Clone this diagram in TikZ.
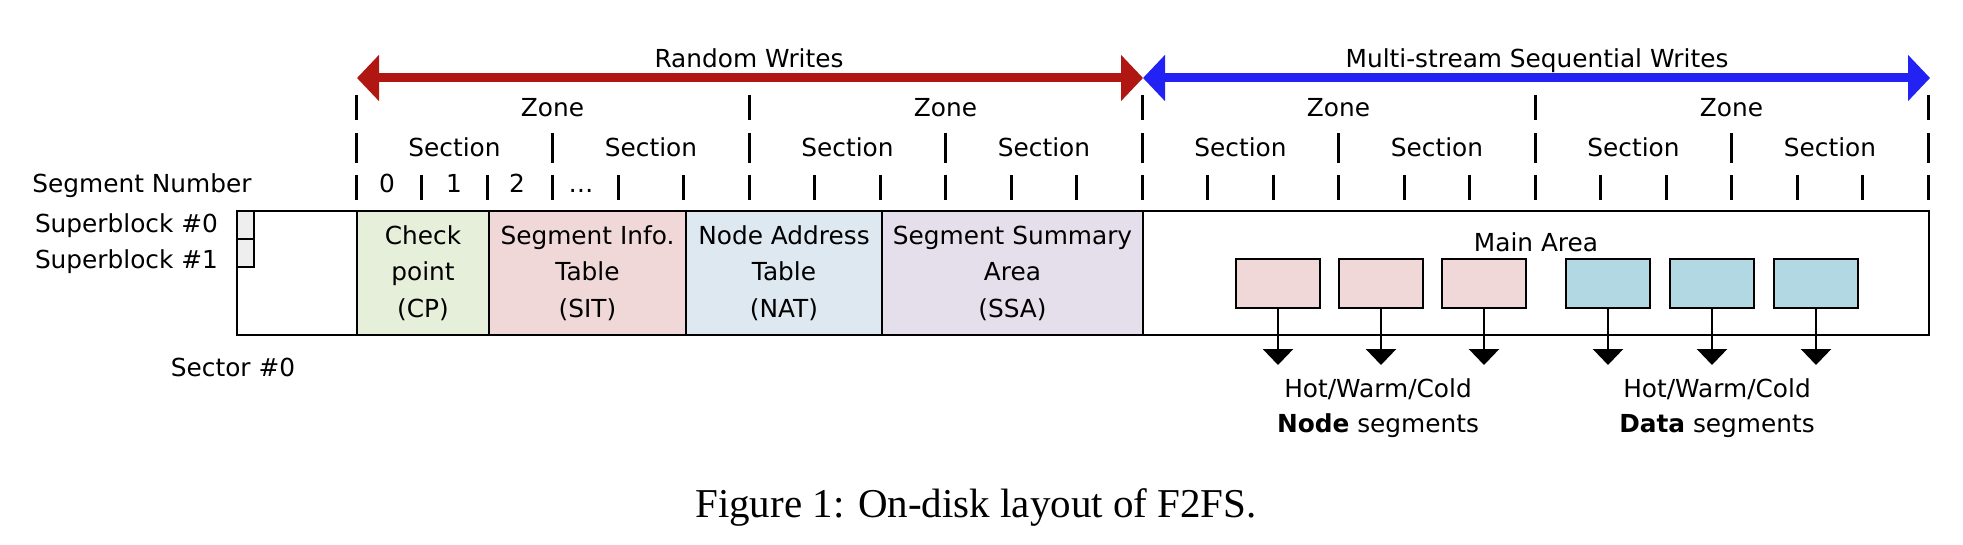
\documentclass[tikz,border=0pt]{standalone}
\usepackage{fontspec}
\setmainfont{DejaVu Sans}
\newfontfamily\capfont{Liberation Serif}
\usetikzlibrary{arrows.meta}
\definecolor{rwred}{RGB}{176,22,18}
\definecolor{swblue}{RGB}{34,34,245}
\definecolor{cpc}{HTML}{E6EFD9}
\definecolor{sitc}{HTML}{F0D8D8}
\definecolor{natc}{HTML}{DEE8F1}
\definecolor{ssac}{HTML}{E4DFEB}
\definecolor{sbc}{HTML}{EEEEEE}
\definecolor{datac}{HTML}{B2D8E3}
\begin{document}
\begin{tikzpicture}[x=0.5pt,y=-0.5pt,
  every node/.style={font=\fontsize{12.4}{18.25}\selectfont, inner sep=0pt, outer sep=0pt},
  lbl/.style={anchor=base},
  blk/.style={draw=black, line width=1.4pt, minimum height=62pt, align=center},
  sbbox/.style={draw=black, line width=1.4pt, fill=sbc, minimum width=8.5pt, minimum height=14pt},
  segbox/.style={draw=black, line width=1.4pt, minimum width=42pt, minimum height=24.5pt},
  tickline/.style={line width=1.5pt},
  bigarrow/.style={line width=4.5pt, {Triangle[length=11pt,width=22.5pt]}-{Triangle[length=11pt,width=22.5pt]}},
  downarrow/.style={line width=1.4pt, -{Triangle[length=8pt,width=15pt]}}
]
\useasboundingbox (0,0) rectangle (1963,545);

% write-mode arrows
\coordinate (rwL) at (357,78);
\coordinate (mid) at (1143,78);
\coordinate (swR) at (1930,78);
\draw[bigarrow, draw=rwred, fill=rwred] (rwL) -- (mid);
\draw[bigarrow, draw=swblue, fill=swblue] (mid) -- (swR);
\node[lbl] (rwt) at (749,68) {Random Writes};
\node[lbl] (swt) at (1537,68) {Multi-stream Sequential Writes};

% ticks
\foreach \k in {0,...,4} \draw[tickline] ({356+393*\k},95) -- ({356+393*\k},120);
\foreach \k in {0,...,8} \draw[tickline] ({356+196.5*\k},133) -- ({356+196.5*\k},163);
\foreach \k in {0,...,24} \draw[tickline] ({356+65.5*\k},175) -- ({356+65.5*\k},200);

% zone / section labels
\foreach \k [count=\i] in {0,...,3} \node[lbl] (zone\i) at ({552.5+393*\k},117) {Zone};
\foreach \k [count=\i] in {0,...,7} \node[lbl] (sec\i) at ({454.5+196.5*\k},157) {Section};

% segment numbers
\node[lbl] (segnum) at (142,193) {Segment Number};
\node[lbl] (s0) at (387,193) {0};
\node[lbl] (s1) at (454,193) {1};
\node[lbl] (s2) at (517,193) {2};
\node[lbl] (s3) at (581,193) {…};

% disk layout
\node[blk, minimum width=846pt] (disk) at (1083,273) {};
\node[sbbox] (sb0) at (245.5,225) {};
\node[sbbox] (sb1) at (245.5,253) {};
\node[blk, fill=cpc, minimum width=66pt] (cp) at (423,273) {Check\\point\\(CP)};
\node[blk, fill=sitc, minimum width=98.5pt] (sit) at (587.5,273) {Segment Info.\\Table\\(SIT)};
\node[blk, fill=natc, minimum width=98pt] (nat) at (784,273) {Node Address\\Table\\(NAT)};
\node[blk, fill=ssac, minimum width=130.5pt] (ssa) at (1012.5,273) {Segment Summary\\Area\\(SSA)};
\node[blk, minimum width=393pt] (main) at (1536,273) {};
\node[lbl] (maint) at (1536,251) {Main Area};

\node[lbl, anchor=base west] (sbl0) at (35,233) {Superblock \#0};
\node[lbl, anchor=base west] (sbl1) at (35,268) {Superblock \#1};
\node[lbl] (sect) at (233,376) {Sector \#0};

% segments in main area
\foreach \x [count=\i] in {1278,1381,1484} {
  \node[segbox, fill=sitc] (n\i) at (\x,283.5) {};
  \coordinate (na\i) at (\x,365);
  \draw[downarrow] (n\i.south) -- (na\i);
}
\foreach \x [count=\i] in {1608,1712,1816} {
  \node[segbox, fill=datac] (d\i) at (\x,283.5) {};
  \coordinate (da\i) at (\x,365);
  \draw[downarrow] (d\i.south) -- (da\i);
}
\node[lbl] (hotn) at (1378,397) {Hot/Warm/Cold};
\node[lbl] (nodes) at (1378,432) {\textbf{Node} segments};
\node[lbl] (hotd) at (1717,397) {Hot/Warm/Cold};
\node[lbl] (datas) at (1717,432) {\textbf{Data} segments};

% caption
\node[lbl, font=\capfont\fontsize{20.5}{24}\selectfont] (cap) at (976,517) {Figure 1: On-disk layout of F2FS.};
\end{tikzpicture}
\end{document}
